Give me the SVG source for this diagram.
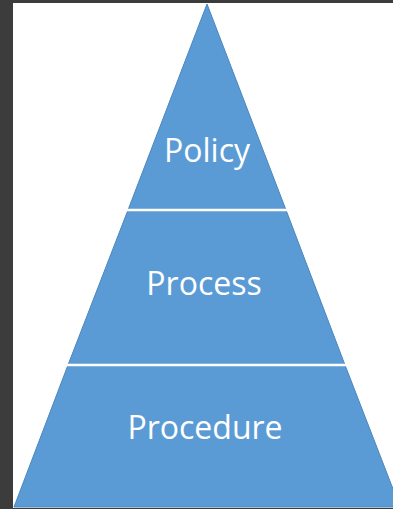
<svg xmlns="http://www.w3.org/2000/svg" width="393" height="509" viewBox="0 0 393 509">
<style>
.tier{fill:#5b9bd5;stroke:#4a86bd;stroke-width:1}
.sep{stroke:#ffffff;stroke-width:2.5}
.lbl{font-family:"Open Sans","Noto Sans",sans-serif;font-size:32px;fill:#ffffff;text-anchor:middle}
</style>
<rect x="0" y="0" width="393" height="509" fill="#3c3c3c"/>
<rect x="13" y="3" width="380" height="505" fill="#ffffff"/>
<g id="policy">
<polygon class="tier" points="207,4 128,210 286,210"/>
<text class="lbl" x="207" y="162">Policy</text>
</g>
<g id="process">
<polygon class="tier" points="128,210 286,210 345,365 68,365"/>
<text class="lbl" x="204" y="295">Process</text>
</g>
<g id="procedure">
<polygon class="tier" points="68,365 345,365 400,507 14,507"/>
<text class="lbl" x="205" y="439">Procedure</text>
</g>
<g id="connectors">
<line class="sep" x1="126" y1="210" x2="288" y2="210"/>
<line class="sep" x1="66" y1="365" x2="347" y2="365"/>
</g>
</svg>
